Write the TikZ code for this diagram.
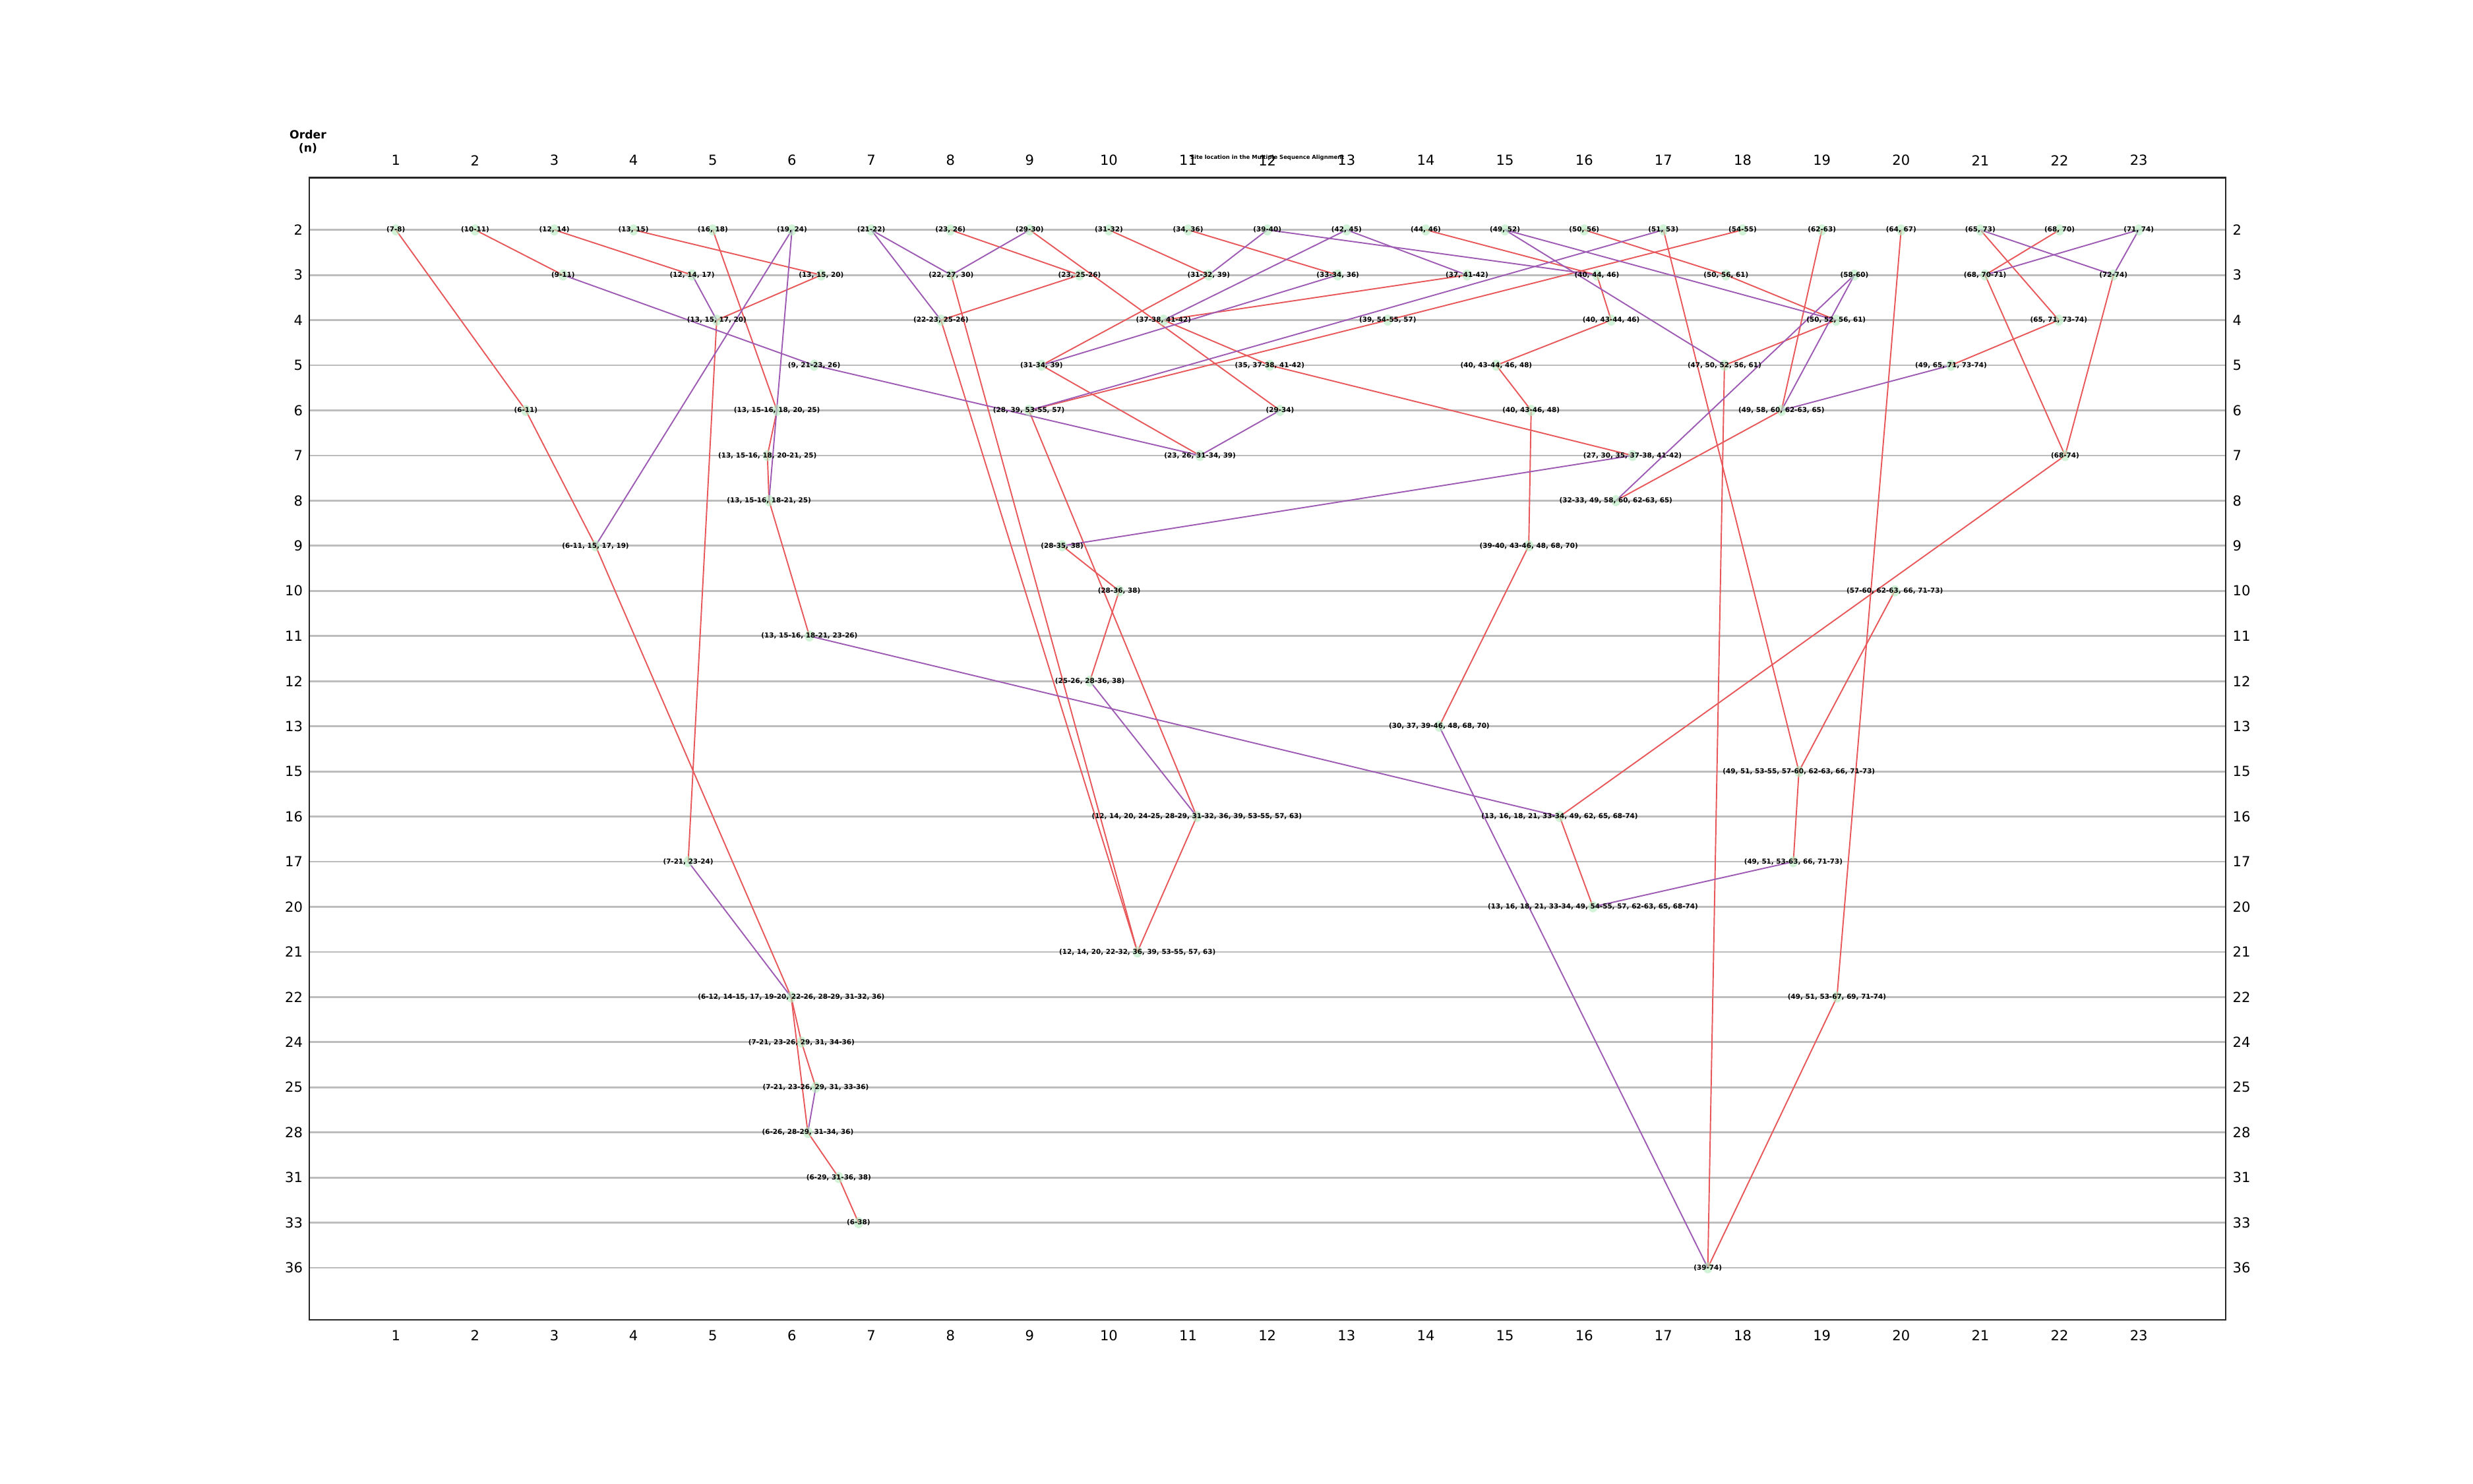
\documentclass[tikz,border=0pt]{standalone}
\usepackage{fontspec}
\setmainfont{DejaVu Sans}
\usetikzlibrary{positioning}
\definecolor{edgeRed}{HTML}{E8585A}
\definecolor{edgePurple}{HTML}{9E5BB4}
\definecolor{gridGray}{HTML}{BDBDBD}
\definecolor{siteGreen}{HTML}{B5EBC0}
\pgfdeclarelayer{grid}
\pgfdeclarelayer{edges}
\pgfsetlayers{grid,edges,main}
\tikzset{
  site/.style={ellipse, minimum width=1.4mm, minimum height=1.7mm, inner sep=0pt,
               fill=siteGreen, fill opacity=0.6, label={[sitelbl]center:#1}},
  sitelbl/.style={font=\fontsize{2.95}{3.5}\selectfont\bfseries, inner sep=0pt,
                  fill opacity=1, text opacity=1},
  redge/.style={edgeRed, line width=0.55pt},
  pedge/.style={edgePurple, line width=0.55pt},
  gridline/.style={gridGray, line width=0.8pt},
  frame/.style={black!85, line width=0.7pt},
  tick/.style={font=\fontsize{6}{7}\selectfont, inner sep=0pt},
  axtitle/.style={font=\fontsize{4.9}{5.8}\selectfont\bfseries, inner sep=0pt},
  msatitle/.style={font=\fontsize{2.4}{3}\selectfont\bfseries, inner sep=0pt},
}
\usetikzlibrary{shapes.geometric}

\begin{document}
\begin{tikzpicture}[x=1.2013cm, y=0.6845cm]
  \useasboundingbox (-3.997,5.094) rectangle (27.219,-27.777);
  % axes
  \begin{pgfonlayer}{grid}
    \foreach \o [count=\i from 0] in {2,3,4,5,6,7,8,9,10,11,12,13,15,16,17,20,21,22,24,25,28,31,33,36} {
      \draw[gridline] (-0.095,-\i) -- (24.095,-\i);
      \node[tick, anchor=east] (lft\i) at (-0.17,-\i) {\o};
      \node[tick, anchor=west] (rgt\i) at (24.18,-\i) {\o};
    }
  \end{pgfonlayer}
  \foreach \c in {1,...,23} {
    \node[tick] (top\c) at (\c,1.54) {\c};
    \node[tick] (bot\c) at (\c,-24.5) {\c};
  }
  \draw[frame] (-0.095,1.154) rectangle (24.095,-24.154);
  \node[axtitle, align=center] (order) at (-0.11,1.95) {Order\\(n)};
  \node[msatitle] (msa) at (12,1.60) {Site location in the Multiple Sequence Alignment};

  % order 2
  \node[site={(7-8)}] (o2a) at (1,0) {};
  \node[site={(10-11)}] (o2b) at (2,0) {};
  \node[site={(12, 14)}] (o2c) at (3,0) {};
  \node[site={(13, 15)}] (o2d) at (4,0) {};
  \node[site={(16, 18)}] (o2e) at (5,0) {};
  \node[site={(19, 24)}] (o2f) at (6,0) {};
  \node[site={(21-22)}] (o2g) at (7,0) {};
  \node[site={(23, 26)}] (o2h) at (8,0) {};
  \node[site={(29-30)}] (o2i) at (9,0) {};
  \node[site={(31-32)}] (o2j) at (10,0) {};
  \node[site={(34, 36)}] (o2k) at (11,0) {};
  \node[site={(39-40)}] (o2l) at (12,0) {};
  \node[site={(42, 45)}] (o2m) at (13,0) {};
  \node[site={(44, 46)}] (o2n) at (14,0) {};
  \node[site={(49, 52)}] (o2o) at (15,0) {};
  \node[site={(50, 56)}] (o2p) at (16,0) {};
  \node[site={(51, 53)}] (o2q) at (17,0) {};
  \node[site={(54-55)}] (o2r) at (18,0) {};
  \node[site={(62-63)}] (o2s) at (19,0) {};
  \node[site={(64, 67)}] (o2t) at (20,0) {};
  \node[site={(65, 73)}] (o2u) at (21,0) {};
  \node[site={(68, 70)}] (o2v) at (22,0) {};
  \node[site={(71, 74)}] (o2w) at (23,0) {};
  % order 3
  \node[site={(9-11)}] (o3a) at (3.11,-1) {};
  \node[site={(12, 14, 17)}] (o3b) at (4.74,-1) {};
  \node[site={(13, 15, 20)}] (o3c) at (6.37,-1) {};
  \node[site={(22, 27, 30)}] (o3d) at (8.01,-1) {};
  \node[site={(23, 25-26)}] (o3e) at (9.63,-1) {};
  \node[site={(31-32, 39)}] (o3f) at (11.26,-1) {};
  \node[site={(33-34, 36)}] (o3g) at (12.89,-1) {};
  \node[site={(37, 41-42)}] (o3h) at (14.52,-1) {};
  \node[site={(40, 44, 46)}] (o3i) at (16.16,-1) {};
  \node[site={(50, 56, 61)}] (o3j) at (17.79,-1) {};
  \node[site={(58-60)}] (o3k) at (19.41,-1) {};
  \node[site={(68, 70-71)}] (o3l) at (21.06,-1) {};
  \node[site={(72-74)}] (o3m) at (22.68,-1) {};
  % order 4
  \node[site={(13, 15, 17, 20)}] (o4a) at (5.05,-2) {};
  \node[site={(22-23, 25-26)}] (o4b) at (7.88,-2) {};
  \node[site={(37-38, 41-42)}] (o4c) at (10.69,-2) {};
  \node[site={(39, 54-55, 57)}] (o4d) at (13.52,-2) {};
  \node[site={(40, 43-44, 46)}] (o4e) at (16.34,-2) {};
  \node[site={(50, 52, 56, 61)}] (o4f) at (19.18,-2) {};
  \node[site={(65, 71, 73-74)}] (o4g) at (21.99,-2) {};
  % order 5
  \node[site={(9, 21-23, 26)}] (o5a) at (6.28,-3) {};
  \node[site={(31-34, 39)}] (o5b) at (9.15,-3) {};
  \node[site={(35, 37-38, 41-42)}] (o5c) at (12.03,-3) {};
  \node[site={(40, 43-44, 46, 48)}] (o5d) at (14.89,-3) {};
  \node[site={(47, 50, 52, 56, 61)}] (o5e) at (17.77,-3) {};
  \node[site={(49, 65, 71, 73-74)}] (o5f) at (20.63,-3) {};
  % order 6
  \node[site={(6-11)}] (o6a) at (2.64,-4) {};
  \node[site={(13, 15-16, 18, 20, 25)}] (o6b) at (5.81,-4) {};
  \node[site={(28, 39, 53-55, 57)}] (o6c) at (8.99,-4) {};
  \node[site={(29-34)}] (o6d) at (12.16,-4) {};
  \node[site={(40, 43-46, 48)}] (o6e) at (15.33,-4) {};
  \node[site={(49, 58, 60, 62-63, 65)}] (o6f) at (18.49,-4) {};
  % order 7
  \node[site={(13, 15-16, 18, 20-21, 25)}] (o7a) at (5.69,-5) {};
  \node[site={(23, 26, 31-34, 39)}] (o7b) at (11.15,-5) {};
  \node[site={(27, 30, 35, 37-38, 41-42)}] (o7c) at (16.61,-5) {};
  \node[site={(68-74)}] (o7d) at (22.07,-5) {};
  % order 8
  \node[site={(13, 15-16, 18-21, 25)}] (o8a) at (5.71,-6) {};
  \node[site={(32-33, 49, 58, 60, 62-63, 65)}] (o8b) at (16.40,-6) {};
  % order 9
  \node[site={(6-11, 15, 17, 19)}] (o9a) at (3.52,-7) {};
  \node[site={(28-35, 38)}] (o9b) at (9.41,-7) {};
  \node[site={(39-40, 43-46, 48, 68, 70)}] (o9c) at (15.30,-7) {};
  % order 10 to 13
  \node[site={(28-36, 38)}] (o10a) at (10.13,-8) {};
  \node[site={(57-60, 62-63, 66, 71-73)}] (o10b) at (19.92,-8) {};
  \node[site={(13, 15-16, 18-21, 23-26)}] (o11a) at (6.22,-9) {};
  \node[site={(25-26, 28-36, 38)}] (o12a) at (9.76,-10) {};
  \node[site={(30, 37, 39-46, 48, 68, 70)}] (o13a) at (14.17,-11) {};
  % order 15 to 22
  \node[site={(49, 51, 53-55, 57-60, 62-63, 66, 71-73)}] (o15a) at (18.71,-12) {};
  \node[site={(12, 14, 20, 24-25, 28-29, 31-32, 36, 39, 53-55, 57, 63)}] (o16a) at (11.11,-13) {};
  \node[site={(13, 16, 18, 21, 33-34, 49, 62, 65, 68-74)}] (o16b) at (15.69,-13) {};
  \node[site={(7-21, 23-24)}] (o17a) at (4.69,-14) {};
  \node[site={(49, 51, 53-63, 66, 71-73)}] (o17b) at (18.64,-14) {};
  \node[site={(13, 16, 18, 21, 33-34, 49, 54-55, 57, 62-63, 65, 68-74)}] (o20a) at (16.11,-15) {};
  \node[site={(12, 14, 20, 22-32, 36, 39, 53-55, 57, 63)}] (o21a) at (10.36,-16) {};
  \node[site={(6-12, 14-15, 17, 19-20, 22-26, 28-29, 31-32, 36)}] (o22a) at (5.99,-17) {};
  \node[site={(49, 51, 53-67, 69, 71-74)}] (o22b) at (19.19,-17) {};
  % order 24 to 36
  \node[site={(7-21, 23-26, 29, 31, 34-36)}] (o24a) at (6.12,-18) {};
  \node[site={(7-21, 23-26, 29, 31, 33-36)}] (o25a) at (6.30,-19) {};
  \node[site={(6-26, 28-29, 31-34, 36)}] (o28a) at (6.20,-20) {};
  \node[site={(6-29, 31-36, 38)}] (o31a) at (6.59,-21) {};
  \node[site={(6-38)}] (o33a) at (6.84,-22) {};
  \node[site={(39-74)}] (o36a) at (17.56,-23) {};

  \begin{pgfonlayer}{edges}
    % red: contained in the next group
    \draw[redge] (o2a.center) -- (o6a.center); \draw[redge] (o6a.center) -- (o9a.center);
    \draw[redge] (o9a.center) -- (o22a.center);
    \draw[redge] (o2b.center) -- (o3a.center); \draw[redge] (o2c.center) -- (o3b.center);
    \draw[redge] (o2d.center) -- (o3c.center); \draw[redge] (o2e.center) -- (o6b.center);
    \draw[redge] (o2h.center) -- (o3e.center); \draw[redge] (o2i.center) -- (o6d.center);
    \draw[redge] (o2j.center) -- (o3f.center); \draw[redge] (o2k.center) -- (o3g.center);
    \draw[redge] (o2n.center) -- (o3i.center); \draw[redge] (o2p.center) -- (o3j.center);
    \draw[redge] (o3j.center) -- (o4f.center); \draw[redge] (o4f.center) -- (o5e.center);
    \draw[redge] (o5e.center) -- (o36a.center); \draw[redge] (o2q.center) -- (o15a.center);
    \draw[redge] (o2r.center) -- (o4d.center); \draw[redge] (o4d.center) -- (o6c.center);
    \draw[redge] (o6c.center) -- (o16a.center); \draw[redge] (o2s.center) -- (o6f.center);
    \draw[redge] (o6f.center) -- (o8b.center); \draw[redge] (o2t.center) -- (o22b.center);
    \draw[redge] (o22b.center) -- (o36a.center); \draw[redge] (o2u.center) -- (o4g.center);
    \draw[redge] (o4g.center) -- (o5f.center); \draw[redge] (o2v.center) -- (o3l.center);
    \draw[redge] (o3l.center) -- (o7d.center); \draw[redge] (o3m.center) -- (o7d.center);
    \draw[redge] (o7d.center) -- (o16b.center); \draw[redge] (o16b.center) -- (o20a.center);
    \draw[redge] (o3c.center) -- (o4a.center); \draw[redge] (o4a.center) -- (o17a.center);
    \draw[redge] (o3d.center) -- (o21a.center); \draw[redge] (o3e.center) -- (o4b.center);
    \draw[redge] (o4b.center) -- (o21a.center); \draw[redge] (o3f.center) -- (o5b.center);
    \draw[redge] (o5b.center) -- (o7b.center); \draw[redge] (o3h.center) -- (o4c.center);
    \draw[redge] (o4c.center) -- (o5c.center); \draw[redge] (o5c.center) -- (o7c.center);
    \draw[redge] (o3i.center) -- (o4e.center); \draw[redge] (o4e.center) -- (o5d.center);
    \draw[redge] (o5d.center) -- (o6e.center); \draw[redge] (o6e.center) -- (o9c.center);
    \draw[redge] (o9c.center) -- (o13a.center); \draw[redge] (o6b.center) -- (o7a.center);
    \draw[redge] (o7a.center) -- (o8a.center); \draw[redge] (o8a.center) -- (o11a.center);
    \draw[redge] (o9b.center) -- (o10a.center); \draw[redge] (o10a.center) -- (o12a.center);
    \draw[redge] (o10b.center) -- (o15a.center); \draw[redge] (o15a.center) -- (o17b.center);
    \draw[redge] (o16a.center) -- (o21a.center); \draw[redge] (o22a.center) -- (o24a.center);
    \draw[redge] (o24a.center) -- (o25a.center); \draw[redge] (o22a.center) -- (o28a.center);
    \draw[redge] (o28a.center) -- (o31a.center); \draw[redge] (o31a.center) -- (o33a.center);
    % purple: overlapping groups
    \draw[pedge] (o2f.center) -- (o9a.center); \draw[pedge] (o2f.center) -- (o8a.center);
    \draw[pedge] (o2g.center) -- (o3d.center); \draw[pedge] (o2g.center) -- (o4b.center);
    \draw[pedge] (o2i.center) -- (o3d.center); \draw[pedge] (o2l.center) -- (o3f.center);
    \draw[pedge] (o2l.center) -- (o3i.center); \draw[pedge] (o2m.center) -- (o3h.center);
    \draw[pedge] (o2m.center) -- (o4c.center); \draw[pedge] (o2o.center) -- (o4f.center);
    \draw[pedge] (o2o.center) -- (o5e.center); \draw[pedge] (o2q.center) -- (o6c.center);
    \draw[pedge] (o2u.center) -- (o3m.center); \draw[pedge] (o2w.center) -- (o3l.center);
    \draw[pedge] (o2w.center) -- (o3m.center); \draw[pedge] (o3a.center) -- (o5a.center);
    \draw[pedge] (o3b.center) -- (o4a.center); \draw[pedge] (o3g.center) -- (o5b.center);
    \draw[pedge] (o3k.center) -- (o6f.center); \draw[pedge] (o3k.center) -- (o8b.center);
    \draw[pedge] (o5a.center) -- (o7b.center); \draw[pedge] (o5f.center) -- (o6f.center);
    \draw[pedge] (o6d.center) -- (o7b.center); \draw[pedge] (o7c.center) -- (o9b.center);
    \draw[pedge] (o11a.center) -- (o16b.center); \draw[pedge] (o12a.center) -- (o16a.center);
    \draw[pedge] (o13a.center) -- (o36a.center); \draw[pedge] (o17a.center) -- (o22a.center);
    \draw[pedge] (o17b.center) -- (o20a.center); \draw[pedge] (o25a.center) -- (o28a.center);
  \end{pgfonlayer}
\end{tikzpicture}
\end{document}
